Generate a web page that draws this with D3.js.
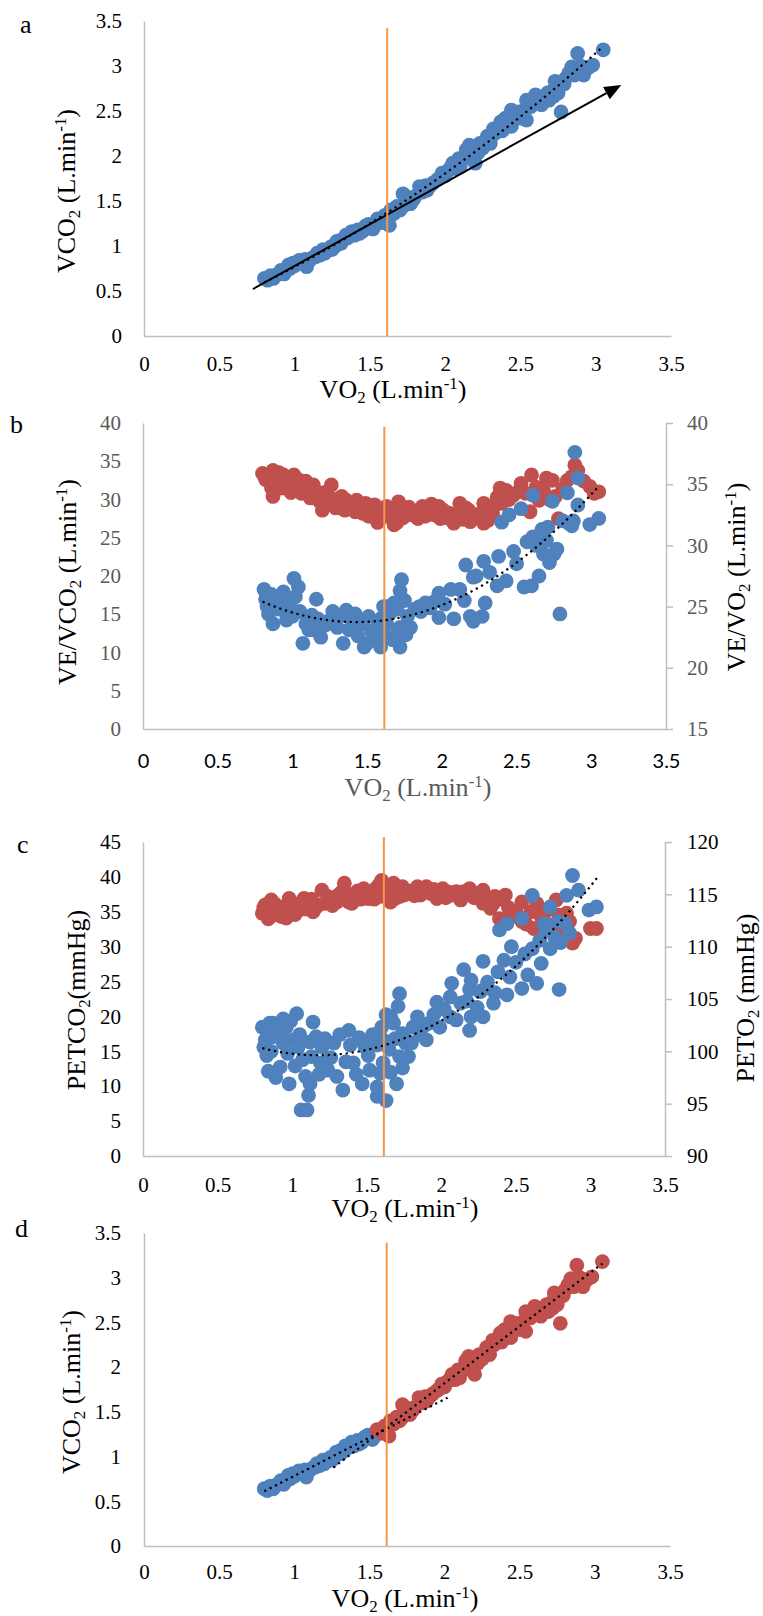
<!DOCTYPE html>
<html><head><meta charset="utf-8">
<script src="https://cdn.jsdelivr.net/npm/d3@7"></script>
<style>body{margin:0;background:#fff;} svg{display:block;}</style>
</head><body>
<svg id="chart" width="763" height="1616"></svg>
<script>
// ---------------- DATA ----------------
const vo2Ticks = [0,0.5,1,1.5,2,2.5,3,3.5];
const vco2Ticks = [0,0.5,1,1.5,2,2.5,3,3.5];
const veVco2Ticks = [0,5,10,15,20,25,30,35,40];
const veVo2Ticks = [15,20,25,30,35,40];
const petco2Ticks = [0,5,10,15,20,25,30,35,40,45];
const peto2Ticks = [90,95,100,105,110,115,120];

const thresholdVO2 = 1.615;           // vertical orange marker (VO2)
const thresholdTops = {a:3.42, b:39.5, c:45.7, d:3.39};
const splitVO2 = 1.545;               // panel d: phase I (blue) / phase II (red)
const arrowA = [[0.724,0.522],[3.17,2.79]];
const fitRangeA = [0.8,3.05];
const fitRangeB = [0.8,3.05];
const fitRangeC = [0.8,3.05];
const fitRangeD1 = [0.8,2.02];
const fitRangeD2 = [1.26,3.05];

// VO2 vs VCO2 (panels a and d)
const vco2Data = [[0.80,0.64],[0.82,0.62],[0.85,0.66],[0.86,0.64],[0.88,0.68],[0.90,0.70],[0.92,0.72],[0.93,0.69],[0.96,0.79],[0.97,0.75],
[0.99,0.81],[1.00,0.78],[1.03,0.84],[1.05,0.82],[1.08,0.77],[1.10,0.84],[1.12,0.87],[1.15,0.92],[1.17,0.90],[1.19,0.96],
[1.22,0.95],[1.25,0.96],[1.27,1.00],[1.28,1.05],[1.31,1.03],[1.32,1.07],[1.35,1.09],[1.38,1.16],[1.40,1.12],[1.42,1.18],
[1.45,1.16],[1.47,1.22],[1.50,1.20],[1.52,1.19],[1.54,1.24],[1.55,1.30],[1.57,1.29],[1.59,1.26],[1.60,1.34],[1.62,1.31],
[1.63,1.23],[1.64,1.40],[1.66,1.36],[1.68,1.44],[1.70,1.40],[1.72,1.58],[1.72,1.44],[1.75,1.50],[1.77,1.47],[1.80,1.55],
[1.83,1.66],[1.85,1.60],[1.88,1.62],[1.90,1.67],[1.92,1.70],[1.95,1.74],[1.98,1.81],[2.00,1.78],[2.02,1.84],[2.05,1.92],
[2.07,1.86],[2.10,1.88],[2.12,1.96],[2.14,2.07],[2.17,2.02],[2.19,2.10],[2.20,1.92],[2.23,2.14],[2.25,2.09],[2.28,2.22],
[2.30,2.14],[2.33,2.25],[2.36,2.33],[2.38,2.28],[2.40,2.42],[2.42,2.36],[2.44,2.51],[2.44,2.33],[2.47,2.45],[2.50,2.42],
[2.52,2.50],[2.54,2.62],[2.54,2.40],[2.57,2.55],[2.60,2.68],[2.62,2.60],[2.64,2.57],[2.66,2.66],[2.69,2.62],[2.71,2.72],
[2.73,2.83],[2.75,2.70],[2.77,2.49],[2.79,2.80],[2.82,2.92],[2.84,2.99],[2.86,2.90],[2.88,3.14],[2.90,3.00],[2.92,2.90],
[2.95,2.98],[2.98,3.01],[3.05,3.18],
[0.84,0.67],[0.91,0.73],[0.95,0.74],[1.02,0.81],[1.07,0.85],[1.14,0.88],[1.20,0.92],[1.24,0.99],[1.30,1.06],[1.34,1.12],
[1.37,1.11],[1.43,1.14],[1.49,1.24],[1.53,1.22],[1.67,1.41],[1.74,1.55],[1.79,1.52],[1.87,1.67],[1.97,1.76],[2.04,1.88],
[2.09,1.97],[2.16,2.12],[2.22,2.04],[2.27,2.17],[2.32,2.30],[2.37,2.38],[2.49,2.49],[2.58,2.63],[2.68,2.70],[2.72,2.66],
[2.80,2.86],[2.87,2.95]];

// panel b: VE/VCO2 (left axis, red) and VE/VO2 (right axis, blue)
const veVco2Data = [[0.80,33.4],[0.82,32.6],[0.85,32.3],[0.87,33.8],[0.87,30.4],[0.90,32.9],[0.93,31.5],[0.94,33.2],[0.97,32.0],[1.00,31.8],
[1.01,33.2],[1.03,31.2],[1.07,32.1],[1.10,31.0],[1.14,31.9],[1.15,30.5],[1.20,28.6],[1.23,30.4],[1.26,31.9],[1.28,30.0],
[1.31,29.9],[1.34,29.3],[1.35,28.6],[1.36,29.9],[1.40,28.8],[1.43,29.9],[1.47,28.2],[1.49,29.5],[1.52,28.6],[1.55,29.3],
[1.58,28.6],[1.59,27.5],[1.62,27.8],[1.63,29.1],[1.66,27.7],[1.68,26.7],[1.70,27.0],[1.71,29.7],[1.72,28.2],[1.77,28.4],
[1.80,28.0],[1.84,27.5],[1.87,29.1],[1.92,28.2],[1.95,28.0],[1.98,29.1],[1.99,27.5],[2.05,28.2],[2.08,26.9],[2.10,28.0],
[2.12,29.5],[2.18,28.6],[2.19,27.1],[2.25,27.8],[2.26,28.2],[2.28,29.5],[2.28,26.9],[2.34,28.2],[2.35,29.2],[2.39,31.5],
[2.40,29.5],[2.43,31.2],[2.48,30.6],[2.53,32.1],[2.59,28.4],[2.60,33.2],[2.65,29.9],[2.68,31.2],[2.74,32.5],[2.76,30.4],
[2.78,27.5],[2.84,32.5],[2.89,34.5],[2.91,33.8],[2.99,31.7],[3.05,31.0],
[0.83,33.0],[0.86,31.5],[0.89,31.9],[0.91,33.5],[0.95,32.6],[0.99,30.9],[1.04,32.6],[1.06,30.8],[1.09,32.4],[1.12,30.2],
[1.17,30.9],[1.18,29.8],[1.21,30.9],[1.25,29.6],[1.29,28.9],[1.33,30.4],[1.38,29.4],[1.42,28.4],[1.45,29.3],[1.51,27.8],
[1.54,28.2],[1.57,27.0],[1.61,28.9],[1.65,28.6],[1.74,27.6],[1.78,29.0],[1.82,28.5],[1.89,27.8],[1.93,29.4],[2.01,28.6],
[2.03,27.6],[2.14,27.4],[2.16,28.9],[2.22,28.0],[2.31,27.3],[2.37,30.3],[2.45,30.0],[2.51,31.0],[2.56,30.8],[2.63,31.6],
[2.70,32.8],[2.72,30.0],[2.81,31.4],[2.87,33.0],[2.95,32.4],[3.02,30.8]];
const veVo2Data = [[0.81,26.4],[0.83,25.0],[0.85,25.8],[0.87,23.6],[0.88,25.1],[0.94,26.2],[0.96,24.4],[0.96,23.9],[1.01,27.3],[1.04,26.6],
[1.07,22.0],[1.11,23.1],[1.14,23.1],[1.16,25.6],[1.19,22.5],[1.27,24.6],[1.34,22.0],[1.36,24.7],[1.39,24.0],[1.45,23.6],
[1.48,21.7],[1.50,22.0],[1.51,24.2],[1.59,21.7],[1.59,22.0],[1.61,25.0],[1.63,23.6],[1.63,25.0],[1.68,25.3],[1.72,21.7],
[1.72,23.3],[1.72,26.3],[1.73,27.2],[1.77,24.2],[1.79,23.3],[1.85,25.0],[1.86,24.6],[1.92,24.9],[1.98,24.1],[1.98,26.1],
[2.06,26.4],[2.08,24.0],[2.12,26.4],[2.16,28.4],[2.19,24.2],[2.21,23.8],[2.21,27.4],[2.23,27.5],[2.27,24.2],[2.28,28.7],
[2.29,25.3],[2.37,26.7],[2.38,29.1],[2.40,31.9],[2.43,27.1],[2.45,32.5],[2.48,29.5],[2.55,26.6],[2.53,33.0],[2.60,26.7],
[2.61,34.1],[2.61,30.7],[2.65,27.5],[2.67,31.3],[2.68,29.3],[2.71,31.5],[2.74,33.6],[2.75,29.3],[2.77,29.7],[2.79,24.4],
[2.84,34.3],[2.85,31.8],[2.88,32.0],[2.89,37.6],[2.91,35.5],[2.91,33.3],[2.99,31.7],[3.05,32.2],
[0.82,25.6],[0.84,24.4],[0.86,26.0],[0.90,24.8],[0.92,25.6],[0.98,25.2],[1.00,24.2],[1.02,25.8],[1.05,24.6],[1.09,23.6],
[1.13,24.3],[1.17,24.0],[1.22,23.5],[1.25,23.9],[1.30,23.3],[1.32,24.3],[1.38,23.1],[1.42,24.4],[1.44,22.6],[1.47,23.6],
[1.53,23.0],[1.55,22.3],[1.57,23.4],[1.60,24.1],[1.62,22.6],[1.65,24.4],[1.67,22.3],[1.70,24.8],[1.70,22.8],[1.75,25.5],
[1.76,22.7],[1.82,24.8],[1.89,25.3],[1.95,25.4],[2.02,25.2],[2.15,25.5],[2.32,27.8],[2.50,28.5],[2.57,30.3],[2.63,30.0],
[2.70,30.4],[2.72,28.6],[2.81,32.0],[2.87,31.6]];

// panel c: PETCO2 (left axis, red) and PETO2 (right axis, blue)
const petco2Data = [[0.80,34.8],[0.82,36.0],[0.83,35.2],[0.86,36.7],[0.87,34.5],[0.89,35.4],[0.92,35.7],[0.95,35.5],[0.96,34.1],[0.98,36.9],
[1.00,35.0],[1.03,36.0],[1.05,35.3],[1.08,36.9],[1.11,36.4],[1.14,35.0],[1.18,36.0],[1.20,38.1],[1.22,36.2],[1.25,36.4],
[1.28,36.8],[1.31,37.4],[1.35,39.1],[1.38,36.4],[1.41,37.0],[1.43,37.4],[1.46,36.8],[1.48,38.3],[1.51,36.9],[1.53,37.5],
[1.56,38.3],[1.58,38.8],[1.60,39.5],[1.61,37.4],[1.63,38.2],[1.66,36.4],[1.68,39.1],[1.70,38.2],[1.72,37.2],[1.74,38.6],
[1.77,37.6],[1.80,38.0],[1.84,38.6],[1.86,37.4],[1.90,38.6],[1.93,37.6],[1.97,36.9],[2.01,38.3],[2.05,37.8],[2.07,37.4],
[2.13,36.7],[2.15,37.9],[2.19,38.3],[2.22,37.0],[2.24,37.6],[2.28,36.2],[2.28,38.1],[2.33,35.5],[2.36,37.2],[2.39,34.0],
[2.43,37.4],[2.47,34.3],[2.54,33.6],[2.54,36.4],[2.60,35.0],[2.62,32.6],[2.64,36.2],[2.67,34.3],[2.74,33.1],[2.77,36.7],
[2.79,34.5],[2.86,33.6],[2.88,30.5],[2.90,31.2],[3.00,32.6],[3.04,32.6],
[0.81,35.6],[0.84,34.0],[0.88,36.2],[0.90,34.6],[0.93,34.3],[0.97,35.8],[1.02,34.6],[1.06,36.3],[1.09,35.4],[1.13,36.8],
[1.16,35.6],[1.24,37.2],[1.27,35.9],[1.30,36.4],[1.33,37.8],[1.37,37.6],[1.40,36.2],[1.44,38.0],[1.50,37.7],[1.55,36.8],
[1.59,37.2],[1.62,38.9],[1.65,37.5],[1.67,38.4],[1.69,36.9],[1.75,37.4],[1.82,37.3],[1.88,38.2],[1.95,38.2],[1.99,37.2],
[2.03,37.0],[2.10,37.9],[2.17,37.5],[2.26,37.2],[2.31,36.6],[2.35,36.2],[2.40,36.8],[2.45,35.6],[2.50,35.0],[2.57,33.2],
[2.66,32.4],[2.70,35.0],[2.82,32.0],[2.84,34.8]];
const peto2Data = [[0.80,102.3],[0.82,101.1],[0.84,98.1],[0.85,102.7],[0.87,101.4],[0.87,102.7],[0.92,98.5],[0.94,103.1],[0.94,100.8],[0.96,102.3],
[0.98,96.9],[1.01,101.1],[1.03,103.6],[1.04,100.4],[1.06,94.4],[1.10,94.4],[1.11,95.8],[1.12,96.9],[1.12,100.9],[1.14,102.8],
[1.19,98.9],[1.20,100.4],[1.24,98.2],[1.28,100.8],[1.34,96.3],[1.38,102.0],[1.39,100.6],[1.41,98.9],[1.47,96.9],[1.48,100.8],
[1.49,100.4],[1.52,98.2],[1.57,96.6],[1.57,95.7],[1.57,100.6],[1.61,98.9],[1.61,101.1],[1.63,95.3],[1.63,103.5],[1.66,103.3],
[1.68,102.7],[1.70,96.9],[1.71,104.3],[1.72,99.5],[1.72,105.5],[1.74,101.7],[1.76,100.8],[1.78,99.5],[1.81,102.3],[1.84,103.3],
[1.89,102.5],[1.90,101.1],[1.92,102.7],[1.97,104.7],[1.99,102.3],[2.06,105.2],[2.07,106.5],[2.06,103.3],[2.13,104.6],[2.15,107.8],
[2.19,105.9],[2.19,102.0],[2.20,106.8],[2.20,103.3],[2.26,105.7],[2.27,105.8],[2.28,108.6],[2.28,103.3],[2.35,104.6],[2.38,107.6],
[2.39,111.6],[2.42,108.7],[2.44,105.4],[2.44,112.2],[2.46,107.1],[2.47,110.0],[2.54,112.7],[2.54,106.0],[2.58,107.3],[2.61,114.9],
[2.61,109.8],[2.64,106.5],[2.67,108.4],[2.69,112.2],[2.73,113.8],[2.73,109.8],[2.76,110.9],[2.79,105.9],[2.83,112.2],[2.84,114.9],
[2.86,111.3],[2.88,116.8],[2.92,115.4],[2.99,113.5],[3.04,113.8],
[0.81,100.4],[0.83,99.6],[0.86,100.0],[0.89,97.5],[0.90,101.8],[0.93,101.5],[0.97,99.8],[0.99,102.9],[1.02,98.6],[1.05,101.6],
[1.07,99.2],[1.09,97.6],[1.13,99.5],[1.16,101.4],[1.18,97.8],[1.22,101.2],[1.26,99.4],[1.30,97.6],[1.32,101.6],[1.36,99.0],
[1.43,97.8],[1.45,101.3],[1.51,99.6],[1.54,101.6],[1.59,97.9],[1.60,102.3],[1.65,100.2],[1.66,98.0],[1.69,101.2],[1.74,98.4],
[1.80,100.8],[1.86,101.6],[1.95,103.5],[2.02,104.0],[2.10,103.0],[2.17,104.8],[2.24,104.2],[2.31,106.6],[2.36,105.6],[2.50,108.5],
[2.56,109.3],[2.66,110.6],[2.70,111.6],[2.78,112.4],[2.80,110.4]];

// ---------------- STYLE ----------------
const BLUE="#4f81bd", RED="#c0504d", ORANGE="#f79646", AXIS="#bfbfbf", GREY="#595959";
const SERIF="'Liberation Serif','Times New Roman',serif";
const SANS="Lato,'Liberation Sans',sans-serif";
const TICK=21, TITLE=26, R=7.4;

const svg = d3.select("#chart");
svg.append("rect").attr("width",763).attr("height",1616).attr("fill","#fff");

const fmt = d => String(d);

function polyfit(pts, deg){
  const n=deg+1;
  const A=Array.from({length:n},()=>Array(n+1).fill(0));
  pts.forEach(([x,y])=>{
    for(let i=0;i<n;i++){ for(let j=0;j<n;j++) A[i][j]+=Math.pow(x,i+j); A[i][n]+=y*Math.pow(x,i); }
  });
  for(let c=0;c<n;c++){
    let p=c; for(let r=c+1;r<n;r++) if(Math.abs(A[r][c])>Math.abs(A[p][c])) p=r;
    [A[c],A[p]]=[A[p],A[c]];
    for(let r=0;r<n;r++){ if(r===c) continue; const f=A[r][c]/A[c][c]; for(let k=c;k<=n;k++) A[r][k]-=f*A[c][k]; }
  }
  const coef=A.map((row,i)=>row[n]/row[i]);
  return x=>coef.reduce((s,cf,i)=>s+cf*Math.pow(x,i),0);
}

function rich(textSel, parts, size){
  let shift=0;
  parts.forEach(p=>{
    const ts=textSel.append("tspan").text(p[0]);
    const target = p[1]==="sub" ? size*0.2 : p[1]==="sup" ? -size*0.36 : 0;
    ts.attr("dy", target-shift);
    shift=target;
    if(p[1]) ts.attr("font-size", size*0.65);
  });
}

function title(g, x, y, parts, rotate, color){
  const t=g.append("text").attr("font-family",SERIF).attr("font-size",TITLE)
    .attr("fill",color||"#000").attr("text-anchor","middle");
  if(rotate) t.attr("transform",`translate(${x},${y}) rotate(-90)`);
  else t.attr("x",x).attr("y",y);
  rich(t, parts, TITLE);
}

function styleAxis(ag, font, size, color){
  ag.attr("font-family",font).attr("font-size",size);
  ag.select(".domain").attr("stroke",AXIS).attr("stroke-width",1.5);
  ag.selectAll(".tick line").attr("stroke",AXIS).attr("stroke-width",1.5);
  ag.selectAll("text").attr("fill",color);
}

function trend(g, x, y, fn, range){
  const n=80, xs=d3.range(n+1).map(i=>range[0]+(range[1]-range[0])*i/n);
  g.append("path").attr("d", d3.line().x(v=>x(v)).y(v=>y(fn(v)))(xs))
    .attr("fill","none").attr("stroke","#000").attr("stroke-width",2.2)
    .attr("stroke-dasharray","2.2,3.8");
}

function dots(g, data, x, y, color){
  g.append("g").selectAll("circle").data(data).join("circle")
    .attr("cx",d=>x(d[0])).attr("cy",d=>y(d[1])).attr("r",R).attr("fill",color);
}

function orange(g, x, y, top){
  g.append("line").attr("x1",x(thresholdVO2)).attr("x2",x(thresholdVO2))
    .attr("y1",y.range()[0]).attr("y2",y(top)).attr("stroke",ORANGE).attr("stroke-width",2);
}

function letter(g, x, y, s){
  g.append("text").attr("x",x).attr("y",y).attr("font-family",SERIF).attr("font-size",26).text(s);
}

const vo2Title=[["VO"],["2","sub"],[" (L.min"],["-1","sup"],[")"]];

// ---------------- PANEL A ----------------
{
  const g=svg.append("g");
  const x=d3.scaleLinear().domain([0,3.5]).range([144,671]);
  const y=d3.scaleLinear().domain([0,3.5]).range([336,21]);
  styleAxis(g.append("g").attr("transform","translate(0,336)")
    .call(d3.axisBottom(x).tickValues(vo2Ticks).tickFormat(fmt).tickSize(0).tickPadding(20)), SERIF, TICK, "#000");
  styleAxis(g.append("g").attr("transform","translate(144,0)")
    .call(d3.axisLeft(y).tickValues(vco2Ticks).tickFormat(fmt).tickSize(0).tickPadding(22)), SERIF, TICK, "#000");
  dots(g, vco2Data, x, y, BLUE);
  trend(g, x, y, polyfit(vco2Data,2), fitRangeA);
  const [p0,p1]=arrowA;
  const x0=x(p0[0]), y0=y(p0[1]), x1=x(p1[0]), y1=y(p1[1]);
  const ang=Math.atan2(y1-y0,x1-x0), L=17, W=7;
  const bx=x1-L*Math.cos(ang), by=y1-L*Math.sin(ang);
  g.append("line").attr("x1",x0).attr("y1",y0).attr("x2",bx).attr("y2",by).attr("stroke","#000").attr("stroke-width",2);
  g.append("path").attr("d",`M${x1},${y1}L${bx+W*Math.sin(ang)},${by-W*Math.cos(ang)}L${bx-W*Math.sin(ang)},${by+W*Math.cos(ang)}Z`).attr("fill","#000");
  orange(g, x, y, thresholdTops.a);
  title(g, 393, 398, vo2Title, false);
  title(g, 75, 191, [["VCO"],["2","sub"],[" (L.min"],["-1","sup"],[")"]], true);
  letter(g, 20, 33, "a");
}

// ---------------- PANEL B ----------------
{
  const g=svg.append("g");
  const x=d3.scaleLinear().domain([0,3.5]).range([143,666]);
  const yL=d3.scaleLinear().domain([0,40]).range([729,423]);
  const yR=d3.scaleLinear().domain([15,40]).range([729,423]);
  styleAxis(g.append("g").attr("transform","translate(0,729)")
    .call(d3.axisBottom(x).tickValues(vo2Ticks).tickFormat(fmt).tickSize(0).tickPadding(25)), SANS, 20, "#000");
  styleAxis(g.append("g").attr("transform","translate(143,0)")
    .call(d3.axisLeft(yL).tickValues(veVco2Ticks).tickFormat(fmt).tickSize(0).tickPadding(22)), SERIF, TICK, GREY);
  styleAxis(g.append("g").attr("transform","translate(666,0)")
    .call(d3.axisRight(yR).tickValues(veVo2Ticks).tickFormat(fmt).tickSizeInner(7).tickSizeOuter(0).tickPadding(14)), SERIF, TICK, GREY);
  dots(g, veVco2Data, x, yL, RED);
  dots(g, veVo2Data, x, yR, BLUE);
  trend(g, x, yR, polyfit(veVo2Data,2), fitRangeB);
  orange(g, x, yL, thresholdTops.b);
  title(g, 418, 796, vo2Title, false, GREY);
  title(g, 76, 582, [["VE/VCO"],["2","sub"],[" (L.min"],["-1","sup"],[")"]], true);
  title(g, 745, 577, [["VE/VO"],["2","sub"],[" (L.min"],["-1","sup"],[")"]], true);
  letter(g, 10, 433, "b");
}

// ---------------- PANEL C ----------------
{
  const g=svg.append("g");
  const x=d3.scaleLinear().domain([0,3.5]).range([143,665]);
  const yL=d3.scaleLinear().domain([0,45]).range([1156,842]);
  const yR=d3.scaleLinear().domain([90,120]).range([1156,842]);
  styleAxis(g.append("g").attr("transform","translate(0,1156)")
    .call(d3.axisBottom(x).tickValues(vo2Ticks).tickFormat(fmt).tickSize(0).tickPadding(21)), SERIF, TICK, "#000");
  styleAxis(g.append("g").attr("transform","translate(143,0)")
    .call(d3.axisLeft(yL).tickValues(petco2Ticks).tickFormat(fmt).tickSize(0).tickPadding(22)), SERIF, TICK, "#000");
  styleAxis(g.append("g").attr("transform","translate(665,0)")
    .call(d3.axisRight(yR).tickValues(peto2Ticks).tickFormat(fmt).tickSizeInner(7).tickSizeOuter(0).tickPadding(15)), SERIF, TICK, "#000");
  dots(g, petco2Data, x, yL, RED);
  dots(g, peto2Data, x, yR, BLUE);
  trend(g, x, yR, polyfit(peto2Data,2), fitRangeC);
  orange(g, x, yL, thresholdTops.c);
  title(g, 405, 1217, vo2Title, false);
  title(g, 85, 1000, [["PETCO"],["2","sub"],["(mmHg)"]], true);
  title(g, 754, 998, [["PETO"],["2","sub"],[" (mmHg)"]], true);
  letter(g, 17, 853, "c");
}

// ---------------- PANEL D ----------------
{
  const g=svg.append("g");
  const x=d3.scaleLinear().domain([0,3.5]).range([144,670]);
  const y=d3.scaleLinear().domain([0,3.5]).range([1546,1233]);
  styleAxis(g.append("g").attr("transform","translate(0,1546)")
    .call(d3.axisBottom(x).tickValues(vo2Ticks).tickFormat(fmt).tickSize(0).tickPadding(18)), SERIF, TICK, "#000");
  styleAxis(g.append("g").attr("transform","translate(144,0)")
    .call(d3.axisLeft(y).tickValues(vco2Ticks).tickFormat(fmt).tickSize(0).tickPadding(23)), SERIF, TICK, "#000");
  const ph1=vco2Data.filter(d=>d[0]<splitVO2), ph2=vco2Data.filter(d=>d[0]>=splitVO2);
  dots(g, ph1, x, y, BLUE);
  dots(g, ph2, x, y, RED);
  trend(g, x, y, polyfit(ph1,1), fitRangeD1);
  trend(g, x, y, polyfit(ph2,1), fitRangeD2);
  orange(g, x, y, thresholdTops.d);
  title(g, 405, 1607, vo2Title, false);
  title(g, 80, 1392, [["VCO"],["2","sub"],[" (L.min"],["-1","sup"],[")"]], true);
  letter(g, 15, 1237, "d");
}
</script>
</body></html>
